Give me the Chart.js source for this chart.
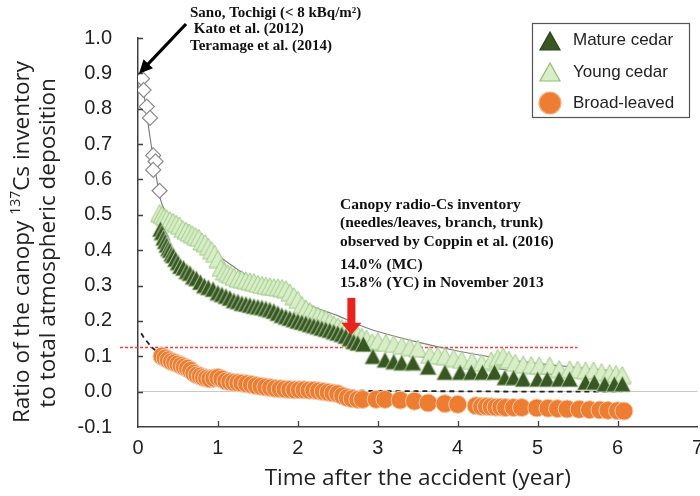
<!DOCTYPE html>
<html>
<head>
<meta charset="utf-8">
<script src="https://cdn.jsdelivr.net/npm/chart.js@4"></script>
<style>
  html, body { margin: 0; padding: 0; background: #fff; }
  #wrap { width: 700px; height: 496px; overflow: hidden; position: relative; }
  canvas { display: block; }
</style>
</head>
<body>
<div id="wrap"><canvas id="chart" width="712" height="496"></canvas></div>
<script>
// Sano, Tochigi (white diamonds)
const SANO_X = [0.05, 0.07, 0.11, 0.15, 0.19, 0.22, 0.19, 0.27];
const SANO_Y = [0.885, 0.853, 0.806, 0.774, 0.668, 0.651, 0.627, 0.568];

const MATURE_X = [0.28, 0.30, 0.32, 0.34, 0.36, 0.38, 0.40, 0.42, 0.44, 0.47, 0.50, 0.53, 0.57, 0.61, 0.65, 0.69, 0.73, 0.78, 0.83, 0.88,
  0.94, 1.00, 1.05, 1.10, 1.15, 1.20, 1.25, 1.30, 1.35, 1.40, 1.45, 1.50, 1.55, 1.60, 1.65, 1.70, 1.75, 1.80, 1.85, 1.90,
  1.95, 2.00, 2.05, 2.10, 2.15, 2.20, 2.25, 2.30, 2.35, 2.40, 2.45, 2.50, 2.55, 2.60, 2.65, 2.70, 2.75, 2.82, 2.94, 3.09,
  3.20, 3.30, 3.44, 3.63, 3.84, 4.03, 4.17, 4.31, 4.46, 4.59, 4.70, 4.82, 5.00, 5.12, 5.27, 5.40, 5.60, 5.71, 5.84, 5.96, 6.06];
const MATURE_Y = [0.46, 0.45, 0.435, 0.425, 0.415, 0.405, 0.40, 0.39, 0.385, 0.375, 0.365, 0.355, 0.35, 0.34, 0.335, 0.325, 0.32, 0.31, 0.30, 0.295,
  0.29, 0.28, 0.275, 0.27, 0.265, 0.258, 0.255, 0.25, 0.248, 0.245, 0.242, 0.24, 0.238, 0.235, 0.232, 0.228, 0.222, 0.216, 0.212, 0.208,
  0.204, 0.20, 0.197, 0.194, 0.19, 0.187, 0.184, 0.18, 0.177, 0.174, 0.17, 0.166, 0.162, 0.157, 0.15, 0.142, 0.138, 0.135, 0.10, 0.09,
  0.085, 0.082, 0.082, 0.07, 0.055, 0.055, 0.055, 0.055, 0.055, 0.04, 0.04, 0.036, 0.036, 0.036, 0.036, 0.036, 0.027, 0.027, 0.022, 0.022, 0.022];

const YOUNG_X = [0.27, 0.30, 0.33, 0.36, 0.40, 0.44, 0.48, 0.52, 0.56, 0.60, 0.64, 0.68, 0.72, 0.76, 0.80, 0.84, 0.88, 0.92, 0.96, 1.00,
  1.04, 1.08, 1.12, 1.16, 1.20, 1.25, 1.30, 1.35, 1.40, 1.45, 1.50, 1.55, 1.60, 1.65, 1.70, 1.75, 1.80, 1.85, 1.90, 1.95,
  2.00, 2.05, 2.10, 2.15, 2.20, 2.25, 2.30, 2.35, 2.40, 2.45, 2.50, 2.55, 2.60, 2.65, 2.70, 2.75, 2.80, 2.86, 2.93, 3.00,
  3.10, 3.20, 3.30, 3.40, 3.50, 3.65, 3.75, 3.84, 3.95, 4.05, 4.18, 4.30, 4.42, 4.50, 4.57, 4.64, 4.72, 4.82, 4.92, 5.02,
  5.15, 5.27, 5.40, 5.50, 5.60, 5.70, 5.80, 5.90, 5.98, 6.06];
const YOUNG_Y = [0.505, 0.50, 0.495, 0.49, 0.485, 0.48, 0.475, 0.47, 0.46, 0.455, 0.45, 0.445, 0.44, 0.435, 0.425, 0.42, 0.41, 0.40, 0.39, 0.375,
  0.35, 0.34, 0.335, 0.33, 0.325, 0.32, 0.318, 0.315, 0.312, 0.31, 0.305, 0.302, 0.30, 0.298, 0.296, 0.295, 0.293, 0.29, 0.28, 0.27,
  0.26, 0.245, 0.235, 0.228, 0.22, 0.215, 0.21, 0.205, 0.198, 0.19, 0.185, 0.18, 0.175, 0.17, 0.165, 0.16, 0.155, 0.15, 0.14, 0.143,
  0.138, 0.135, 0.13, 0.126, 0.122, 0.104, 0.102, 0.10, 0.095, 0.09, 0.087, 0.082, 0.088, 0.095, 0.10, 0.09, 0.082, 0.077, 0.075, 0.074,
  0.074, 0.064, 0.063, 0.062, 0.06, 0.06, 0.055, 0.052, 0.05, 0.047];

const BROAD_X = [0.30, 0.34, 0.38, 0.42, 0.46, 0.50, 0.54, 0.58, 0.62, 0.66, 0.70, 0.74, 0.78, 0.82, 0.86, 0.90, 0.95, 1.00, 1.05, 1.10,
  1.15, 1.20, 1.25, 1.30, 1.36, 1.42, 1.48, 1.54, 1.60, 1.66, 1.72, 1.78, 1.84, 1.90, 1.96, 2.02, 2.08, 2.14, 2.20, 2.26,
  2.32, 2.38, 2.44, 2.50, 2.56, 2.62, 2.68, 2.75, 2.81, 2.98, 3.09, 3.28, 3.46, 3.63, 3.84, 4.00, 4.23, 4.30, 4.36, 4.42,
  4.48, 4.54, 4.60, 4.70, 4.80, 4.99, 5.13, 5.25, 5.37, 5.52, 5.65, 5.78, 5.88, 6.00, 6.08];
const BROAD_Y = [0.10, 0.095, 0.09, 0.085, 0.082, 0.078, 0.074, 0.07, 0.066, 0.06, 0.052, 0.047, 0.044, 0.04, 0.038, 0.036, 0.038, 0.04, 0.036, 0.03,
  0.028, 0.026, 0.025, 0.024, 0.022, 0.02, 0.017, 0.015, 0.013, 0.011, 0.009, 0.008, 0.007, 0.006, 0.005, 0.005, 0.005, 0.004, 0.004, 0.002,
  0.0, -0.002, -0.004, -0.006, -0.012, -0.017, -0.02, -0.022, -0.022, -0.022, -0.022, -0.024, -0.027, -0.032, -0.034, -0.036, -0.04, -0.042, -0.042, -0.043,
  -0.044, -0.044, -0.045, -0.045, -0.045, -0.046, -0.047, -0.048, -0.049, -0.05, -0.051, -0.052, -0.053, -0.054, -0.055];

const FIT_YOUNG_X = [0.05, 0.10, 0.15, 0.20, 0.25, 0.30, 0.40, 0.60, 0.80, 1.00, 1.25, 1.50, 1.75, 2.00, 2.25, 2.50, 2.75, 3.00, 3.50, 4.00, 4.50, 5.00, 5.50, 6.00];
const FIT_YOUNG_Y = [0.88, 0.80, 0.72, 0.65, 0.58, 0.53, 0.49, 0.45, 0.42, 0.385, 0.345, 0.31, 0.285, 0.26, 0.235, 0.215, 0.19, 0.17, 0.14, 0.115, 0.095, 0.08, 0.068, 0.058];
const FIT_MATURE_X = [0.30, 0.40, 0.50, 0.75, 1.00, 1.25, 1.50, 1.75, 2.00, 2.25, 2.50, 2.75, 3.00, 3.50, 4.00, 4.50, 5.00, 5.50, 6.00];
const FIT_MATURE_Y = [0.45, 0.40, 0.37, 0.32, 0.285, 0.26, 0.24, 0.22, 0.20, 0.185, 0.165, 0.145, 0.125, 0.10, 0.08, 0.065, 0.052, 0.042, 0.035];
const FIT_BROAD_X = [0.04, 0.10, 0.20, 0.30, 0.50, 0.75, 1.00, 1.50, 2.00, 2.50, 3.00, 4.00, 5.00, 6.05];
const FIT_BROAD_Y = [0.165, 0.145, 0.12, 0.10, 0.075, 0.05, 0.04, 0.022, 0.012, 0.005, 0.002, 0.001, 0.0, 0.0];

// canopy inventory in November 2013 (Coppin et al.)
const COPPIN_X = 2.67;
const COPPIN_LEVEL = 0.125;
const COPPIN_LEVEL_END = 5.5;

const LEGEND_LABELS = ['Mature cedar', 'Young cedar', 'Broad-leaved'];
const NOTE_SANO = ['Sano, Tochigi (< 8 kBq/m\u00B2)', ' Kato et al. (2012)', 'Teramage et al. (2014)'];
const NOTE_COPPIN = ['Canopy radio-Cs inventory', '(needles/leaves, branch, trunk)', 'observed by Coppin et al. (2016)', '14.0% (MC)', '15.8% (YC) in November 2013'];

const MATURE_COLOR = '#385723';
const MATURE_EDGE = 'rgba(200,225,185,0.85)';
const YOUNG_FILL = '#D8EDC8';
const YOUNG_EDGE = '#9FCB86';
const BROAD_COLOR = '#ED7D31';
const AXIS_COLOR = '#404040';

function toPoints(xs, ys) {
  return xs.map((x, i) => ({ x: x, y: ys[i] }));
}

function fitLine(xs, ys, color, dash) {
  return {
    data: toPoints(xs, ys), showLine: true, pointRadius: 0, borderColor: color,
    borderWidth: dash ? 1.8 : 1.2, borderDash: dash || [], tension: 0.4, fill: false
  };
}

function trianglePath(ctx, cx, cy, w, h) {
  ctx.beginPath();
  ctx.moveTo(cx, cy - h / 2);
  ctx.lineTo(cx + w / 2, cy + h / 2);
  ctx.lineTo(cx - w / 2, cy + h / 2);
  ctx.closePath();
}

// marker sprite used as pointStyle
function triangleSprite(w, h, fill, stroke) {
  const c = document.createElement('canvas');
  c.width = w + 2;
  c.height = h + 2;
  const g = c.getContext('2d');
  trianglePath(g, c.width / 2, c.height / 2, w, h);
  g.fillStyle = fill;
  g.fill();
  g.strokeStyle = stroke;
  g.lineWidth = 1;
  g.stroke();
  return c;
}

const decorations = {
  id: 'decorations',
  beforeDatasetsDraw(chart) {
    const { ctx, scales: { x, y } } = chart;
    ctx.save();
    ctx.strokeStyle = '#FF3B3B';
    ctx.lineWidth = 1.3;
    ctx.setLineDash([3, 2]);
    const ly = Math.round(y.getPixelForValue(COPPIN_LEVEL)) + 0.5;
    ctx.beginPath();
    ctx.moveTo(x.left - 18, ly);
    ctx.lineTo(x.getPixelForValue(COPPIN_LEVEL_END), ly);
    ctx.stroke();
    ctx.restore();
  },
  afterDraw(chart) {
    const { ctx, scales: { x, y }, chartArea } = chart;
    ctx.save();

    // inward tick marks
    ctx.strokeStyle = AXIS_COLOR;
    ctx.lineWidth = 1.3;
    ctx.beginPath();
    y.ticks.forEach(t => {
      if (t.value <= -0.05) return;
      const py = Math.round(y.getPixelForValue(t.value)) + 0.5;
      ctx.moveTo(chartArea.left, py);
      ctx.lineTo(chartArea.left + 5, py);
    });
    x.ticks.forEach(t => {
      if (t.value < 0.5 || t.value > 6.5) return;
      const px = Math.round(x.getPixelForValue(t.value)) + 0.5;
      ctx.moveTo(px, chartArea.bottom);
      ctx.lineTo(px, chartArea.bottom - 6);
    });
    ctx.stroke();

    // y axis title with superscript mass number
    ctx.fillStyle = '#222';
    ctx.textBaseline = 'middle';
    const big = '22.5px "Open Sans"';
    const small = '14px "Open Sans"';
    ctx.font = big;
    const p1 = 'Ratio of the canopy ', p3 = 'Cs inventory';
    const w1 = ctx.measureText(p1).width, w3 = ctx.measureText(p3).width;
    ctx.font = small;
    const w2 = ctx.measureText('137').width;
    const total = w1 + w2 + w3;
    ctx.save();
    ctx.translate(23, 242);
    ctx.rotate(-Math.PI / 2);
    ctx.textAlign = 'left';
    ctx.font = big;
    ctx.fillText(p1, -total / 2, 0);
    ctx.font = small;
    ctx.fillText('137', -total / 2 + w1, -7);
    ctx.font = big;
    ctx.fillText(p3, -total / 2 + w1 + w2, 0);
    ctx.restore();
    ctx.save();
    ctx.translate(49, 243);
    ctx.rotate(-Math.PI / 2);
    ctx.textAlign = 'center';
    ctx.font = big;
    ctx.fillText('to total atmospheric deposition', 0, 0);
    ctx.restore();

    // notes
    ctx.fillStyle = '#111';
    ctx.textAlign = 'left';
    ctx.font = 'bold 15px "Liberation Serif"';
    const sanoY = [13, 29, 46];
    NOTE_SANO.forEach((s, i) => ctx.fillText(s, 190, sanoY[i]));
    ctx.font = 'bold 15.5px "Liberation Serif"';
    const copY = [205, 223, 242, 265, 283];
    NOTE_COPPIN.forEach((s, i) => ctx.fillText(s, 340, copY[i]));

    // black arrow to the Sano points
    const tipX = x.getPixelForValue(SANO_X[0]) - 3, tipY = y.getPixelForValue(SANO_Y[0]) - 5;
    const sx = 186, sy = 24;
    const ang = Math.atan2(tipY - sy, tipX - sx);
    ctx.strokeStyle = '#000';
    ctx.lineWidth = 3.2;
    ctx.beginPath();
    ctx.moveTo(sx, sy);
    ctx.lineTo(tipX - Math.cos(ang) * 10, tipY - Math.sin(ang) * 10);
    ctx.stroke();
    ctx.fillStyle = '#000';
    ctx.beginPath();
    ctx.moveTo(tipX, tipY);
    ctx.lineTo(tipX - Math.cos(ang - 0.45) * 15, tipY - Math.sin(ang - 0.45) * 15);
    ctx.lineTo(tipX - Math.cos(ang + 0.45) * 15, tipY - Math.sin(ang + 0.45) * 15);
    ctx.closePath();
    ctx.fill();

    // red arrow at November 2013
    const ax = x.getPixelForValue(COPPIN_X);
    const aTop = y.getPixelForValue(0.265), aBase = y.getPixelForValue(0.195), aTip = y.getPixelForValue(0.16);
    ctx.fillStyle = '#E8231E';
    ctx.fillRect(ax - 4, aTop, 8, aBase - aTop + 1);
    ctx.beginPath();
    ctx.moveTo(ax - 10, aBase);
    ctx.lineTo(ax + 10, aBase);
    ctx.lineTo(ax, aTip);
    ctx.closePath();
    ctx.fill();

    // legend
    ctx.strokeStyle = '#555';
    ctx.lineWidth = 1.2;
    ctx.strokeRect(532.5, 23.5, 157, 94);
    ctx.lineWidth = 1.2;
    trianglePath(ctx, 550, 41, 20, 18);
    ctx.fillStyle = MATURE_COLOR;
    ctx.fill();
    ctx.strokeStyle = '#2a4219';
    ctx.stroke();
    trianglePath(ctx, 550, 72, 20, 18);
    ctx.fillStyle = YOUNG_FILL;
    ctx.fill();
    ctx.strokeStyle = '#8CBF6E';
    ctx.stroke();
    ctx.beginPath();
    ctx.arc(550, 103, 11, 0, Math.PI * 2);
    ctx.fillStyle = BROAD_COLOR;
    ctx.fill();
    ctx.strokeStyle = '#F4B183';
    ctx.stroke();
    ctx.fillStyle = '#222';
    ctx.font = '17px "Liberation Sans"';
    const legY = [40, 72, 103];
    LEGEND_LABELS.forEach((s, i) => ctx.fillText(s, 573, legY[i]));

    ctx.restore();
  }
};

const matureMark = triangleSprite(17, 16, MATURE_COLOR, MATURE_EDGE);
const youngMark = triangleSprite(18, 17, YOUNG_FILL, YOUNG_EDGE);

const ctx = document.getElementById('chart').getContext('2d');
new Chart(ctx, {
  type: 'scatter',
  data: {
    datasets: [
      { data: toPoints(MATURE_X, MATURE_Y), pointStyle: matureMark, pointRadius: 9 },
      { data: toPoints(YOUNG_X, YOUNG_Y), pointStyle: youngMark, pointRadius: 9 },
      { data: toPoints(BROAD_X, BROAD_Y), pointStyle: 'circle', pointRadius: 9, backgroundColor: BROAD_COLOR, borderColor: '#F8C9A8', borderWidth: 1 },
      { data: toPoints(SANO_X, SANO_Y), pointStyle: 'rectRot', pointRadius: 7.5, backgroundColor: '#fff', borderColor: '#8a8a8a', borderWidth: 1.2 },
      fitLine(FIT_YOUNG_X, FIT_YOUNG_Y, '#808080'),
      fitLine(FIT_MATURE_X, FIT_MATURE_Y, '#808080'),
      fitLine(FIT_BROAD_X, FIT_BROAD_Y, '#222', [5, 4])
    ]
  },
  options: {
    responsive: false,
    animation: false,
    events: [],
    layout: { padding: { top: 25, right: 14, left: 0, bottom: 0 } },
    scales: {
      x: {
        type: 'linear', min: 0, max: 7,
        afterFit: s => { s.height = 69; },
        ticks: { stepSize: 1, padding: 9, color: '#222', font: { family: 'Liberation Sans', size: 20 } },
        grid: { display: false, drawTicks: false },
        border: { display: true, color: AXIS_COLOR, width: 1.5 },
        title: { display: true, text: 'Time after the accident (year)', color: '#222', padding: { top: -4 }, font: { family: 'Open Sans', size: 22.5 } }
      },
      y: {
        type: 'linear', min: -0.1, max: 1.0,
        afterFit: s => { s.width = 138; },
        ticks: {
          stepSize: 0.1, padding: 26, color: '#222', font: { family: 'Liberation Sans', size: 20 },
          callback: v => (Math.abs(v) < 1e-9 ? 0 : v).toFixed(1)
        },
        grid: { drawTicks: false, color: c => (c.tick && Math.abs(c.tick.value) < 1e-9 ? '#c8c8c8' : 'rgba(0,0,0,0)') },
        border: { display: true, color: AXIS_COLOR, width: 1.5 }
      }
    },
    plugins: { legend: { display: false }, tooltip: { enabled: false } }
  },
  plugins: [decorations]
});
</script>
</body>
</html>
